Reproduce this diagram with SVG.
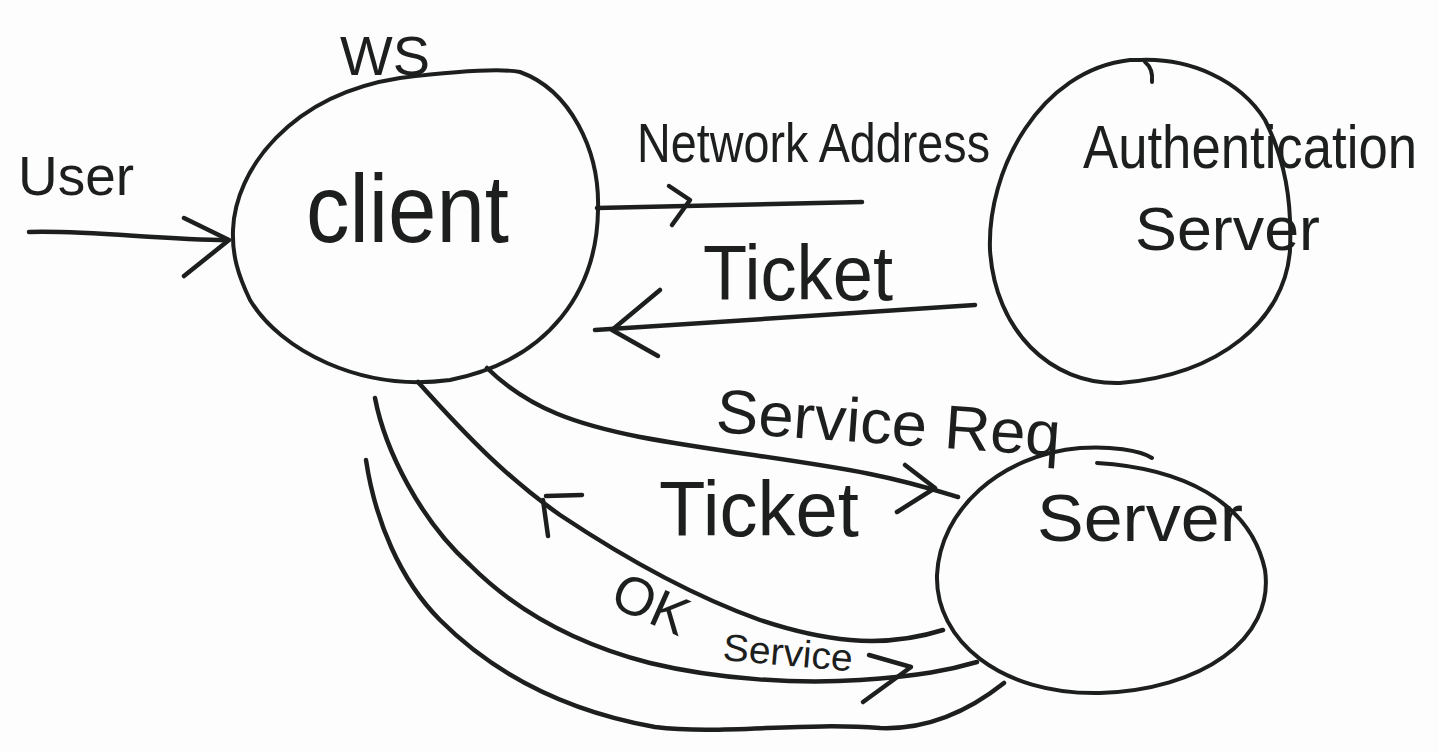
<svg xmlns="http://www.w3.org/2000/svg" width="1438" height="753" viewBox="0 0 1438 753">
<style>
.ink{fill:none;stroke:#1d1f1f;stroke-width:4.5;stroke-linecap:round;stroke-linejoin:round}
.node{fill:none;stroke:#1d1f1f;stroke-width:4;stroke-linecap:round;stroke-linejoin:round}
.t{font-family:"Liberation Sans",Arial,sans-serif;fill:#1d1f1f}
</style>
<rect width="1438" height="753" fill="#fdfdfd"/>

<g id="client">
  <path class="node" d="M233 230 C235 170 290 95 400 78 C450 72 500 68 520 72 C570 90 600 150 598 210 C597 290 550 360 450 380 C360 392 280 350 250 300 C238 275 232 255 233 230 Z"/>
  <text class="t" x="340" y="75" font-size="55" textLength="90" lengthAdjust="spacingAndGlyphs">WS</text>
  <text class="t" x="306" y="242" font-size="96" textLength="203" lengthAdjust="spacingAndGlyphs">client</text>
</g>

<g id="auth-server">
  <path class="node" d="M1140 60 C1190 58 1240 80 1265 120 C1285 160 1292 200 1290 250 C1285 320 1220 375 1120 383 C1050 385 995 330 990 250 C987 170 1040 70 1130 60 Z"/>
  <path class="node" d="M1145 62 C1150 66 1153 72 1152 82"/>
  <text class="t" x="1083" y="168" font-size="62" textLength="334" lengthAdjust="spacingAndGlyphs">Authentication</text>
  <text class="t" x="1135" y="250" font-size="62" textLength="185" lengthAdjust="spacingAndGlyphs">Server</text>
</g>

<g id="server">
  <path class="node" d="M1097 463 C1180 468 1250 500 1265 570 C1275 640 1200 690 1100 693 C1000 695 935 640 937 575 C940 510 1000 455 1080 448 C1110 446 1140 450 1152 458"/>
  <text class="t" x="1037" y="541" font-size="66" textLength="206" lengthAdjust="spacingAndGlyphs">Server</text>
</g>

<g id="connectors">
  <!-- user -> client -->
  <path class="ink" d="M29 232 C90 230 160 240 228 240"/>
  <path class="ink" d="M184 218 L229 240 L184 276"/>
  <text class="t" x="18" y="195" font-size="56" textLength="116" lengthAdjust="spacingAndGlyphs">User</text>

  <!-- client -> auth: Network Address -->
  <path class="ink" d="M597 208 L862 202"/>
  <path class="ink" d="M669 186 L690 200 L672 225"/>
  <text class="t" x="637" y="162" font-size="56" textLength="353" lengthAdjust="spacingAndGlyphs">Network Address</text>

  <!-- auth -> client: Ticket -->
  <path class="ink" d="M975 305 L595 330"/>
  <path class="ink" d="M660 290 L612 330 L658 356"/>
  <text class="t" x="703" y="300" font-size="78" textLength="190" lengthAdjust="spacingAndGlyphs">Ticket</text>

  <!-- client -> server: Service Req -->
  <path class="ink" d="M487 368 C530 410 580 425 640 437 C720 452 800 460 870 474 C910 482 935 490 958 497"/>
  <path class="ink" d="M905 465 L935 488 L897 512"/>
  <text class="t" x="715" y="432" font-size="62" textLength="345" lengthAdjust="spacingAndGlyphs" transform="rotate(4 715 432)">Service Req</text>

  <!-- server -> client: Ticket -->
  <path class="ink" d="M418 382 C470 440 510 480 560 515 C620 555 690 595 760 620 C820 640 880 650 943 630"/>
  <path class="ink" d="M582 495 L546 496 M543 500 L548 536"/>
  <text class="t" x="659" y="536" font-size="78" textLength="200" lengthAdjust="spacingAndGlyphs">Ticket</text>

  <!-- OK / Service -->
  <path class="ink" d="M375 398 C385 450 420 520 470 565 C520 615 580 645 650 663 C720 680 800 684 860 680 C920 676 950 670 977 662"/>
  <path class="ink" d="M869 655 L911 667 L863 702"/>
  <text class="t" x="608" y="605" font-size="54" transform="rotate(24 608 605)">OK</text>
  <text class="t" x="722" y="660" font-size="38" textLength="130" lengthAdjust="spacingAndGlyphs" transform="rotate(5 722 660)">Service</text>

  <!-- bottom line -->
  <path class="ink" d="M366 460 C375 520 400 580 440 620 C490 670 560 710 655 727 C720 735 800 722 880 728 C930 730 970 710 1004 683"/>
</g>
</svg>
